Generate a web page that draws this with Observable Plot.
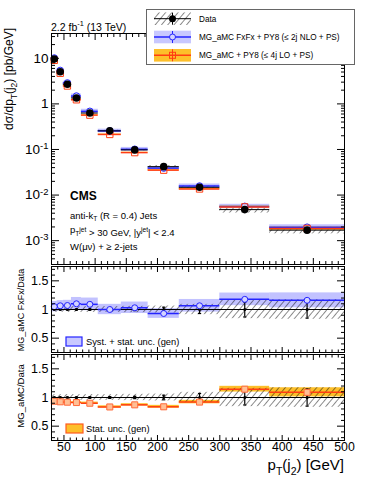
<!DOCTYPE html>
<html><head><meta charset="utf-8">
<script src="https://cdn.jsdelivr.net/npm/d3@7"></script>
<script src="https://cdn.jsdelivr.net/npm/@observablehq/plot@0.6"></script>
<style>
body{margin:0;background:#fff;}
#wrap{position:relative;width:374px;height:484px;overflow:hidden;font-family:"Liberation Sans",Arial,Helvetica,sans-serif;}
#wrap svg{position:absolute;left:0;}
</style></head><body>
<svg width="0" height="0" style="position:absolute">
<defs>
<pattern id="hatch" patternUnits="userSpaceOnUse" width="4.8" height="4.8" patternTransform="rotate(40)">
<line x1="0" y1="0" x2="0" y2="4.8" stroke="#000" stroke-width="0.9"/>
</pattern>
</defs></svg>
<div id="wrap"></div>
<script>
// ---- data ----
const binLow  = [30, 39, 49, 62, 78, 105, 142, 185, 235, 300, 380];
const binHigh = [39, 49, 62, 78, 105, 142, 185, 235, 300, 380, 500];
const dataXsec = [9.66, 5.08, 2.69, 1.35, 0.63, 0.256, 0.098, 0.042, 0.0148, 0.0048, 0.0017];
const dataStatRel = [0.004, 0.005, 0.006, 0.008, 0.01, 0.015, 0.02, 0.04, 0.07, 0.13, 0.15];
const dataTotRel  = [0.05, 0.05, 0.05, 0.05, 0.05, 0.05, 0.055, 0.06, 0.09, 0.16, 0.17];
const fxfxRatio = [1.05, 1.065, 1.07, 1.10, 1.09, 1.0, 1.03, 0.93, 1.065, 1.177, 1.16];
const fxfxUncRel = [0.09, 0.09, 0.09, 0.11, 0.11, 0.09, 0.10, 0.085, 0.11, 0.11, 0.13];
const loRatio = [0.935, 0.925, 0.918, 0.912, 0.9, 0.835, 0.872, 0.838, 0.92, 1.145, 1.09];
const loUncRel = [0.015, 0.015, 0.015, 0.015, 0.02, 0.02, 0.02, 0.025, 0.03, 0.05, 0.08];
const xMajor = [50, 100, 150, 200, 250, 300, 350, 400, 450, 500];
const yMainMajor = [1e-3, 1e-2, 1e-1, 1, 10];
const ratioMajor = [0.5, 1, 1.5];

const rows = binLow.map((xlo, i) => ({
  xlo, xhi: binHigh[i], xc: (xlo + binHigh[i]) / 2,
  data: dataXsec[i], dstat: dataStatRel[i], dtot: dataTotRel[i],
  fx: dataXsec[i] * fxfxRatio[i], fxr: fxfxRatio[i], fxu: fxfxUncRel[i],
  lomc: dataXsec[i] * loRatio[i], lor: loRatio[i], lou: loUncRel[i],
  one: dataXsec[i] / dataXsec[i]
}));

const xMinor = d3.range(30, 501, 10).filter(v => v % 50 !== 0);
const yMainMinor = [];
for (let e = -4; e <= 1; e++) for (let m = 2; m <= 9; m++) { const v = m * 10 ** e; if (v >= 3e-4 && v <= 35) yMainMinor.push(v); }
const ratioMinor = d3.range(0.3, 1.71, 0.1).map(v => +v.toFixed(2)).filter(v => !ratioMajor.includes(v));

const FONT = '"Liberation Sans", Arial, Helvetica, sans-serif';
const BLUE = "#2424ff", BLUEBAND = "#a8a8ff", ORANGE = "#fdbf2a", RED = "#ff3d12";
const capSym = {draw(ctx, size) { const r = Math.sqrt(size / Math.PI); ctx.moveTo(-r, 0); ctx.lineTo(r, 0); }};

function ticksIn(dim, anchor, values, size) {
  const o = {anchor, tickSize: size, tickFormat: () => "", label: null, stroke: "#000", strokeWidth: 1};
  if (anchor === "bottom") o.dy = -size;
  else if (anchor === "top") o.dy = size;
  else if (anchor === "left") o.dx = size;
  else o.dx = -size;
  return dim === "x" ? Plot.axisX(values, o) : Plot.axisY(values, o);
}
function frameTicks(yMaj, yMin, xs, ys) {
  return [
    ticksIn("x", "bottom", xMajor, xs), ticksIn("x", "bottom", xMinor, xs / 2),
    ticksIn("x", "top", xMajor, xs), ticksIn("x", "top", xMinor, xs / 2),
    ticksIn("y", "left", yMaj, ys), ticksIn("y", "left", yMin, ys / 2),
    ticksIn("y", "right", yMaj, ys), ticksIn("y", "right", yMin, ys / 2)
  ];
}
const wrap = document.getElementById("wrap");
const baseStyle = {background: "transparent", fontFamily: FONT, overflow: "visible"};

// ---- main panel ----
const main = Plot.plot({
  width: 374, height: 265, marginTop: 33, marginBottom: 1, marginLeft: 51, marginRight: 30,
  style: baseStyle,
  x: {domain: [30, 500]},
  y: {type: "log", domain: [3e-4, 35]},
  marks: [
    Plot.rect(rows, {x1: "xlo", x2: "xhi", y1: d => d.data * (1 - d.dtot), y2: d => d.data * (1 + d.dtot), fill: "url(#hatch)"}),
    Plot.rect(rows, {x1: "xlo", x2: "xhi", y1: d => d.fx * (1 - d.fxu), y2: d => d.fx * (1 + d.fxu), fill: BLUEBAND, fillOpacity: 0.7}),
    Plot.rect(rows, {x1: "xlo", x2: "xhi", y1: d => d.lomc * (1 - d.lou), y2: d => d.lomc * (1 + d.lou), fill: ORANGE}),
    Plot.ruleY(rows, {x1: "xlo", x2: "xhi", y: "fx", stroke: BLUE, strokeWidth: 1.5}),
    Plot.ruleY(rows, {x1: "xlo", x2: "xhi", y: "lomc", stroke: RED, strokeWidth: 1.5}),
    Plot.ruleY(rows, {x1: "xlo", x2: "xhi", y: "data", stroke: "#000", strokeWidth: 1}),
    Plot.dot(rows, {x: "xc", y: "fx", r: 3.3, fill: "#d4d4ff", stroke: BLUE, strokeWidth: 1}),
    Plot.dot(rows, {x: "xc", y: "lomc", symbol: "square", r: 3.6, fill: "none", stroke: RED, strokeWidth: 1}),
    Plot.ruleX(rows, {x: "xc", y1: d => d.data * (1 - d.dstat), y2: d => d.data * (1 + d.dstat), stroke: "#000"}),
    Plot.dot(rows, {x: "xc", y: "data", r: 3.8, fill: "#000", stroke: "none"}),
    Plot.frame({stroke: "#000"}),
    ...frameTicks(yMainMajor, yMainMinor, 6, 8),
    Plot.axisY(yMainMajor, {anchor: "left", tickSize: 0, tickPadding: 3, label: null, fontSize: 13.5,
      tickFormat: d => d >= 1 ? String(d) : "10^-" + Math.round(-Math.log10(d))})
  ]
});
main.style.top = "0px";
wrap.appendChild(main);
d3.select(main).selectAll('g[aria-label="y-axis tick label"] text').each(function () {
  const s = this.textContent;
  if (s.includes("^")) {
    const [b, e] = s.split("^");
    const t = d3.select(this); t.text(null);
    t.append("tspan").text(b);
    t.append("tspan").attr("dy", "-0.5em").attr("font-size", "0.7em").text(e);
  }
});

// ---- ratio panels ----
function ratioPanel(top, height, mb, band, withX) {
  const marks = [];
  if (band === "fx") {
    marks.push(Plot.rect(rows, {x1: "xlo", x2: "xhi", y1: d => d.fxr - d.fxu, y2: d => d.fxr + d.fxu, fill: BLUEBAND, fillOpacity: 0.7}));
  } else {
    marks.push(Plot.rect(rows, {x1: "xlo", x2: "xhi", y1: d => d.lor - d.lou, y2: d => d.lor + d.lou, fill: ORANGE}));
  }
  marks.push(
    Plot.rect(rows, {x1: "xlo", x2: "xhi", y1: d => d.one - d.dtot, y2: d => d.one + d.dtot, fill: "url(#hatch)"}),
    Plot.ruleY(ratioMajor.filter(v => v === 1), {stroke: "#000", strokeWidth: 1.2}),
    Plot.ruleX(rows, {x: "xc", y1: d => d.one - d.dstat, y2: d => d.one + d.dstat, stroke: "#000", strokeWidth: 1.2}),
    Plot.dot(rows, {x: "xc", y: d => d.one - d.dstat, symbol: capSym, r: 1.6, stroke: "#000", strokeWidth: 1.2}),
    Plot.dot(rows, {x: "xc", y: d => d.one + d.dstat, symbol: capSym, r: 1.6, stroke: "#000", strokeWidth: 1.2}),
    Plot.dot(rows, {x: "xc", y: "one", r: 1.5, fill: "#000"})
  );
  if (band === "fx") {
    marks.push(
      Plot.ruleY(rows, {x1: "xlo", x2: "xhi", y: "fxr", stroke: BLUE, strokeWidth: 1.5}),
      Plot.dot(rows, {x: "xc", y: "fxr", r: 3, fill: "#d4d4ff", stroke: BLUE, strokeWidth: 1})
    );
  } else {
    marks.push(
      Plot.ruleY(rows, {x1: "xlo", x2: "xhi", y: "lor", stroke: RED, strokeWidth: 1.5}),
      Plot.dot(rows, {x: "xc", y: "lor", symbol: "square", r: 3.4, fill: "#ffbf95", stroke: "#ff6a3a", strokeWidth: 1})
    );
  }
  marks.push(
    Plot.frame({stroke: "#000"}),
    ...frameTicks(ratioMajor, ratioMinor, 5, 8),
    Plot.axisY(ratioMajor, {anchor: "left", tickSize: 0, tickPadding: 3, label: null, fontSize: 12.5,
      tickFormat: d => String(d)})
  );
  if (withX) marks.push(Plot.axisX(xMajor, {anchor: "bottom", tickSize: 0, tickPadding: 2, label: null, fontSize: 12.3, tickFormat: d => String(d)}));
  const p = Plot.plot({
    width: 374, height, marginTop: 8, marginBottom: mb, marginLeft: 51, marginRight: 30,
    style: baseStyle,
    x: {domain: [30, 500]},
    y: {domain: [0.25, 1.75]},
    marks
  });
  p.style.top = top + "px";
  wrap.appendChild(p);
}
ratioPanel(258, 95, 1, "fx", false);
ratioPanel(346, 138, 44, "lo", true);

// ---- text, titles and legends ----
const ov = d3.select(wrap).append("svg").attr("width", 374).attr("height", 484)
  .style("top", "0px").style("font-family", FONT);
function rich(t, parts, fs) {
  let shift = 0;
  for (const [s, k] of parts) {
    const target = k === "sub" ? fs * 0.3 : k === "sup" ? -fs * 0.42 : 0;
    t.append("tspan").attr("dy", target - shift).attr("font-size", k ? fs * 0.7 : fs).text(s);
    shift = target;
  }
}
rich(ov.append("text").attr("x", 51).attr("y", 30.5), [["2.2 fb", ""], ["-1", "sup"], [" (13 TeV)", ""]], 10.5);

rich(ov.append("text").attr("transform", "translate(13,28) rotate(-90)").attr("text-anchor", "end"),
  [["dσ/dp", ""], ["T", "sub"], ["(j", ""], ["2", "sub"], [")  [pb/GeV]", ""]], 12);
rich(ov.append("text").attr("x", 344).attr("y", 470).attr("text-anchor", "end"),
  [["p", ""], ["T", "sub"], ["(j", ""], ["2", "sub"], [") [GeV]", ""]], 15);
ov.append("text").attr("transform", "translate(24,310) rotate(-90)").attr("text-anchor", "middle").attr("font-size", 9).text("MG_aMC FxFx/Data");
ov.append("text").attr("transform", "translate(24,396) rotate(-90)").attr("text-anchor", "middle").attr("font-size", 9.5).text("MG_aMC/Data");

ov.append("text").attr("x", 70).attr("y", 200).attr("font-size", 12).attr("font-weight", "bold").text("CMS");
rich(ov.append("text").attr("x", 70).attr("y", 218.5), [["anti-k", ""], ["T", "sub"], [" (R = 0.4) Jets", ""]], 9.5);
rich(ov.append("text").attr("x", 70).attr("y", 233), [["p", ""], ["T", "sub"], ["", ""], ["jet", "sup"], [" > 30 GeV, |y", ""], ["jet", "sup"], ["| < 2.4", ""]], 9.5);
ov.append("text").attr("x", 70).attr("y", 249.5).attr("font-size", 9.5).text("W(μν) + ≥ 2-jets");

// top legend
ov.append("rect").attr("x", 146.5).attr("y", 9.5).attr("width", 208).attr("height", 55).attr("fill", "#fff").attr("stroke", "#666");
const legRows = [
  {cy: 18.7, fill: "url(#hatch)", line: "#000", label: "Data"},
  {cy: 37, fill: "#c8c8ff", line: BLUE, label: "MG_aMC FxFx + PY8 (≤ 2j NLO + PS)"},
  {cy: 55.3, fill: ORANGE, line: RED, label: "MG_aMC + PY8 (≤ 4j LO + PS)"}
];
legRows.forEach((r, i) => {
  ov.append("rect").attr("x", 154).attr("y", r.cy - 6.3).attr("width", 37).attr("height", 12.6).attr("fill", r.fill);
  ov.append("line").attr("x1", 154).attr("x2", 191).attr("y1", r.cy).attr("y2", r.cy).attr("stroke", r.line).attr("stroke-width", i ? 1.5 : 1);
  ov.append("line").attr("x1", 172.5).attr("x2", 172.5).attr("y1", r.cy - 6).attr("y2", r.cy + 6).attr("stroke", r.line).attr("stroke-width", 1);
  if (i === 0) ov.append("circle").attr("cx", 172.5).attr("cy", r.cy).attr("r", 3.5).attr("fill", "#000");
  else if (i === 1) ov.append("circle").attr("cx", 172.5).attr("cy", r.cy).attr("r", 3).attr("fill", "#d4d4ff").attr("stroke", BLUE);
  else ov.append("rect").attr("x", 169.5).attr("y", r.cy - 3).attr("width", 6).attr("height", 6).attr("fill", "none").attr("stroke", RED);
  ov.append("text").attr("x", 199).attr("y", r.cy + 3).attr("font-size", 8.2).text(r.label);
});

// ratio legends
ov.append("rect").attr("x", 66).attr("y", 337).attr("width", 16).attr("height", 9).attr("fill", "#c8c8ff").attr("stroke", BLUE).attr("stroke-width", 1.2);
ov.append("text").attr("x", 86).attr("y", 345).attr("font-size", 9.3).text("Syst. + stat. unc. (gen)");
ov.append("rect").attr("x", 66).attr("y", 424).attr("width", 17).attr("height", 9).attr("fill", ORANGE).attr("stroke", "#ff5a20").attr("stroke-width", 1.2);
ov.append("text").attr("x", 86).attr("y", 432).attr("font-size", 9.3).text("Stat. unc. (gen)");
</script>
</body></html>
